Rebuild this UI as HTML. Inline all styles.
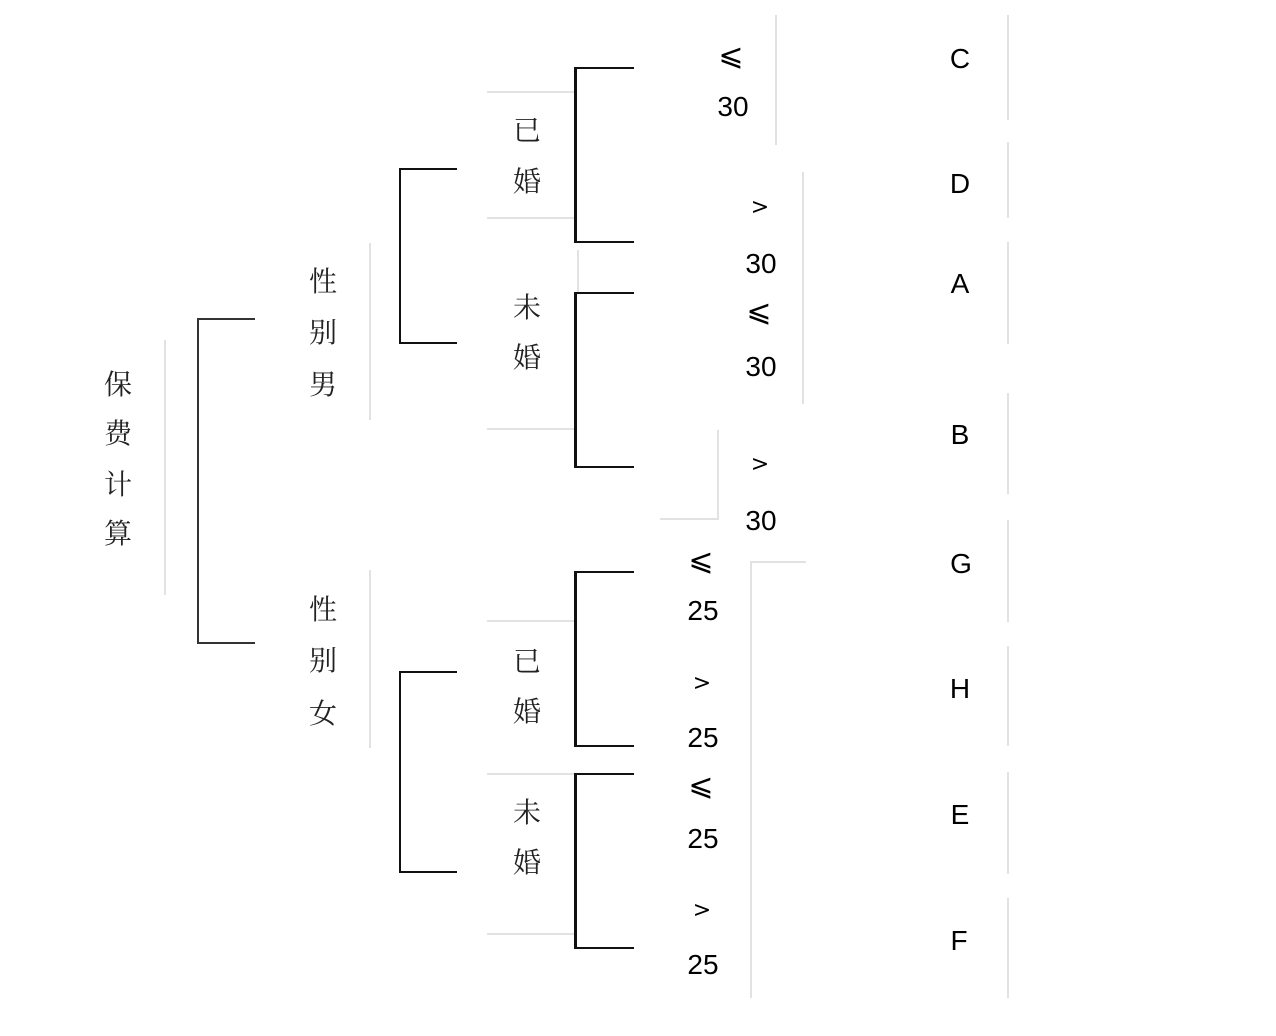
<!DOCTYPE html>
<html><head><meta charset="utf-8"><style>
html,body{margin:0;padding:0;background:#fff;}
body{width:1276px;height:1036px;position:relative;overflow:hidden;}
.t{position:absolute;transform:translate(-50%,-50%);white-space:nowrap;line-height:1;color:#000;}
.c{font-family:"Liberation Serif","Noto Serif CJK SC",serif;font-size:28px;color:#222;margin-top:2px;}
.n{font-family:"Liberation Sans",sans-serif;font-size:28px;}
.s{font-family:"DejaVu Sans","Liberation Sans",sans-serif;font-size:22px;}
.le{font-family:"DejaVu Sans",sans-serif;font-size:30px;}
.g{position:absolute;background:#e2e2e2;}
.b{position:absolute;background:#111;}
</style></head><body>
<div class="g" style="left:164px;top:340px;width:2px;height:255px"></div>
<div class="g" style="left:369px;top:243px;width:2px;height:177px"></div>
<div class="g" style="left:369px;top:570px;width:2px;height:178px"></div>
<div class="g" style="left:487px;top:91px;width:88px;height:2px"></div>
<div class="g" style="left:487px;top:217px;width:88px;height:2px"></div>
<div class="g" style="left:577px;top:250px;width:2px;height:42px"></div>
<div class="g" style="left:487px;top:428px;width:88px;height:2px"></div>
<div class="g" style="left:487px;top:620px;width:88px;height:2px"></div>
<div class="g" style="left:487px;top:773px;width:88px;height:2px"></div>
<div class="g" style="left:487px;top:933px;width:88px;height:2px"></div>
<div class="g" style="left:775px;top:15px;width:2px;height:130px"></div>
<div class="g" style="left:802px;top:172px;width:2px;height:232px"></div>
<div class="g" style="left:717px;top:430px;width:2px;height:90px"></div>
<div class="g" style="left:660px;top:518px;width:58px;height:2px"></div>
<div class="g" style="left:750px;top:561px;width:2px;height:437px"></div>
<div class="g" style="left:750px;top:561px;width:56px;height:2px"></div>
<div class="g" style="left:1007px;top:15px;width:2px;height:105px"></div>
<div class="g" style="left:1007px;top:142px;width:2px;height:76px"></div>
<div class="g" style="left:1007px;top:242px;width:2px;height:102px"></div>
<div class="g" style="left:1007px;top:393px;width:2px;height:101px"></div>
<div class="g" style="left:1007px;top:520px;width:2px;height:102px"></div>
<div class="g" style="left:1007px;top:646px;width:2px;height:100px"></div>
<div class="g" style="left:1007px;top:772px;width:2px;height:102px"></div>
<div class="g" style="left:1007px;top:898px;width:2px;height:100px"></div>

<div class="b" style="left:197px;top:318px;width:2px;height:326px;background:#333"></div>
<div class="b" style="left:197px;top:318px;width:58px;height:2px;background:#333"></div>
<div class="b" style="left:197px;top:642px;width:58px;height:2px;background:#333"></div>

<div class="b" style="left:399px;top:168px;width:2px;height:176px"></div>
<div class="b" style="left:399px;top:168px;width:58px;height:2px"></div>
<div class="b" style="left:399px;top:342px;width:58px;height:2px"></div>
<div class="b" style="left:399px;top:671px;width:2px;height:202px"></div>
<div class="b" style="left:399px;top:671px;width:58px;height:2px"></div>
<div class="b" style="left:399px;top:871px;width:58px;height:2px"></div>

<div class="b" style="left:574px;top:67px;width:3px;height:176px"></div>
<div class="b" style="left:574px;top:67px;width:60px;height:2px"></div>
<div class="b" style="left:574px;top:241px;width:60px;height:2px"></div>
<div class="b" style="left:574px;top:292px;width:3px;height:176px"></div>
<div class="b" style="left:574px;top:292px;width:60px;height:2px"></div>
<div class="b" style="left:574px;top:466px;width:60px;height:2px"></div>
<div class="b" style="left:574px;top:571px;width:3px;height:176px"></div>
<div class="b" style="left:574px;top:571px;width:60px;height:2px"></div>
<div class="b" style="left:574px;top:745px;width:60px;height:2px"></div>
<div class="b" style="left:574px;top:773px;width:3px;height:176px"></div>
<div class="b" style="left:574px;top:773px;width:60px;height:2px"></div>
<div class="b" style="left:574px;top:947px;width:60px;height:2px"></div>

<div class="t c" style="left:118px;top:384px">保</div>
<div class="t c" style="left:118px;top:433px">费</div>
<div class="t c" style="left:118px;top:484px">计</div>
<div class="t c" style="left:118px;top:533px">算</div>
<div class="t c" style="left:323px;top:281px">性</div>
<div class="t c" style="left:323px;top:332px">别</div>
<div class="t c" style="left:323px;top:384px">男</div>
<div class="t c" style="left:323px;top:609px">性</div>
<div class="t c" style="left:323px;top:660px">别</div>
<div class="t c" style="left:323px;top:713px">女</div>
<div class="t c" style="left:527px;top:130px">已</div>
<div class="t c" style="left:527px;top:181px">婚</div>
<div class="t c" style="left:527px;top:307px">未</div>
<div class="t c" style="left:527px;top:357px">婚</div>
<div class="t c" style="left:527px;top:661px">已</div>
<div class="t c" style="left:527px;top:711px">婚</div>
<div class="t c" style="left:527px;top:812px">未</div>
<div class="t c" style="left:527px;top:862px">婚</div>

<div class="t le" style="left:731px;top:56px">⩽</div>
<div class="t n" style="left:733px;top:107px">30</div>
<div class="t s" style="left:760px;top:208px">&gt;</div>
<div class="t n" style="left:761px;top:264px">30</div>
<div class="t le" style="left:759px;top:312px">⩽</div>
<div class="t n" style="left:761px;top:367px">30</div>
<div class="t s" style="left:760px;top:465px">&gt;</div>
<div class="t n" style="left:761px;top:521px">30</div>
<div class="t le" style="left:701px;top:561px">⩽</div>
<div class="t n" style="left:703px;top:611px">25</div>
<div class="t s" style="left:702px;top:684px">&gt;</div>
<div class="t n" style="left:703px;top:738px">25</div>
<div class="t le" style="left:701px;top:786px">⩽</div>
<div class="t n" style="left:703px;top:839px">25</div>
<div class="t s" style="left:702px;top:911px">&gt;</div>
<div class="t n" style="left:703px;top:965px">25</div>

<div class="t n" style="left:960px;top:59px">C</div>
<div class="t n" style="left:960px;top:184px">D</div>
<div class="t n" style="left:960px;top:284px">A</div>
<div class="t n" style="left:960px;top:435px">B</div>
<div class="t n" style="left:961px;top:564px">G</div>
<div class="t n" style="left:960px;top:689px">H</div>
<div class="t n" style="left:960px;top:815px">E</div>
<div class="t n" style="left:959px;top:941px">F</div>
</body></html>
